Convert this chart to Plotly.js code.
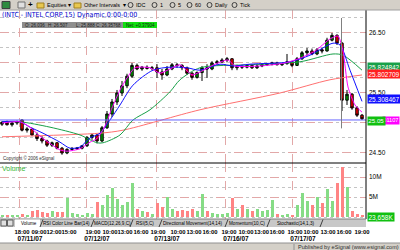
<!DOCTYPE html>
<html><head><meta charset="utf-8">
<script src="https://cdn.plot.ly/plotly-3.0.1.min.js"></script>
<style>html,body{margin:0;padding:0;background:#fff;overflow:hidden}#chart{width:400px;height:250px}</style>
</head><body><div id="chart"></div>
<script>
// ---- data (INTC 15-min, coarsened) ----
const openP  = [24.98,25.01,24.97,25.00,25.05,24.88,24.90,24.80,24.74,24.70,24.63,24.67,24.58,24.50,24.56,24.57,24.58,24.62,24.76,24.80,24.70,24.92,25.15,25.35,25.50,25.62,25.78,25.96,25.90,25.93,25.91,25.92,25.85,25.80,25.90,25.97,25.96,25.92,25.83,25.76,25.84,25.92,25.90,26.00,26.02,26.05,26.07,25.92,25.94,25.93,25.96,25.92,25.95,25.97,25.98,26.00,25.97,25.99,26.02,25.96,26.07,26.17,26.20,26.15,26.22,26.20,26.38,26.46,26.33,25.38,25.48,25.25,25.13];
const highP  = [25.03,25.04,25.02,25.04,25.06,24.93,24.92,24.84,24.78,24.72,24.69,24.68,24.60,24.58,24.60,24.60,24.63,24.78,24.82,24.81,24.95,25.20,25.40,25.55,25.70,25.82,26.00,25.99,25.95,25.96,25.95,25.98,25.90,25.95,26.00,26.00,25.98,25.94,25.85,25.86,25.95,25.98,26.03,26.05,26.08,26.10,26.08,25.97,25.97,25.98,25.98,25.97,25.99,26.00,26.02,26.02,26.00,26.15,26.03,26.10,26.20,26.25,26.24,26.25,26.26,26.42,26.50,26.48,26.35,25.55,25.50,25.28,25.15];
const lowP   = [24.95,24.96,24.94,24.97,24.86,24.84,24.78,24.70,24.66,24.60,24.60,24.56,24.47,24.48,24.54,24.55,24.56,24.60,24.72,24.66,24.68,24.90,25.10,25.30,25.45,25.58,25.75,25.88,25.87,25.89,25.88,25.75,25.72,25.78,25.88,25.92,25.88,25.80,25.72,25.74,25.70,25.75,25.88,25.97,26.00,26.01,25.88,25.88,25.90,25.91,25.90,25.90,25.93,25.95,25.96,25.96,25.95,25.97,25.93,25.95,26.05,26.12,26.13,26.13,26.16,26.19,26.36,26.30,25.20,25.30,25.22,25.10,25.05];
const closeP = [25.01,24.97,25.00,25.02,24.88,24.90,24.80,24.74,24.70,24.63,24.67,24.58,24.50,24.56,24.57,24.58,24.62,24.76,24.80,24.70,24.92,25.15,25.35,25.50,25.62,25.78,25.96,25.90,25.93,25.91,25.92,25.85,25.80,25.90,25.97,25.96,25.92,25.83,25.76,25.84,25.92,25.90,26.00,26.02,26.05,26.07,25.92,25.94,25.93,25.96,25.92,25.95,25.97,25.98,26.00,25.97,25.99,26.02,25.96,26.07,26.17,26.20,26.15,26.22,26.20,26.38,26.46,26.33,25.38,25.48,25.25,25.13,25.07];
const volumeM = [0.5,0.4,0.6,0.5,0.8,0.6,1.5,1.8,1.2,1.0,1.5,1.2,1.3,4.8,1.0,0.8,0.6,1.0,0.8,3.8,3.0,5.5,7.2,4.5,3.0,3.8,8.6,2.0,1.5,1.2,0.8,3.5,2.5,5.0,2.0,1.5,1.8,1.5,2.0,1.5,5.7,1.5,1.0,0.8,0.7,1.0,4.8,2.0,3.0,2.0,1.5,2.0,1.5,1.8,4.2,0.8,0.6,0.8,0.5,3.0,6.0,4.0,3.0,5.0,3.5,7.0,4.0,8.5,12.5,7.5,1.5,0.8,0.5];

// moving averages (knots in bar units / price)
const maFastX = [0,3.6,5.6,7.6,9.6,11.6,13,15.6,17.6,19,20.6,22,23.6,25,26.6,29.6,31.6,33.6,35.6,38,39.6,42.6,45.2,46.6,51.6,56.6,59.6,62.6,65.6,67.2,68.2,69.2,70.6,72];
const maFastY = [25.00,25.02,24.93,24.78,24.66,24.55,24.53,24.57,24.68,24.74,24.95,25.25,25.55,25.75,25.92,25.92,25.83,25.90,25.97,25.80,25.85,25.98,26.05,25.95,25.95,26.00,26.08,26.20,26.40,26.45,26.20,25.60,25.30,25.18];
const maMidX  = [0,3.6,5.6,8.2,11.6,13.6,15.6,17.6,19.6,21.6,23.6,26.2,30.2,33.6,37,39.6,43.6,46.2,49.6,57.6,61.6,66.2,67.6,69.6,72];
const maMidY  = [25.02,25.02,24.93,24.83,24.68,24.58,24.60,24.75,24.83,25.05,25.30,25.63,25.88,25.93,25.92,25.88,25.98,25.95,25.98,26.02,26.13,26.33,26.30,25.88,25.36];
const maSlowX = [0,3.6,9.6,15.6,19,20.2,23.6,26.2,29.6,33.6,35.6,39.6,49.6,59.6,66.2,68.2,72];
const maSlowY = [25.02,25.02,24.93,24.80,24.67,24.67,24.80,25.05,25.22,25.52,25.72,25.92,25.97,26.02,26.15,26.13,25.88];
const maLongX = [0,19.6,24.2,39.6,55.6,65.6,72];
const maLongY = [24.77,24.83,24.88,25.22,25.50,25.72,25.80];

const refLine = 25.05;          // horizontal blue line
const cursorBar = 67.9;         // cursor position (bar units)
const dayStarts = [3.4,16.8,30.8,44.6,58];
const dayLabels = ['07/11/07','07/12/07','07/13/07','07/16/07','07/17/07'];
const timePos = [4,7.4,10.4,13.4,18.2,21.6,24.6,27.8,31.2,35.2,38.4,41.6,45.4,48.8,51.9,55,58.6,61.8,65.2,68.4,72];
const timeLabels = ['18:00','09:00','12:00','15:00','19:00','10:00','13:00','16:00','19:00','10:00','13:00','16:00','19:00','10:00','13:00','16:00','19:00','10:00','13:00','16:00','19:00'];
const priceTicks = [24.5,25.0,25.5,26.0,26.5];
const priceTickText = ['24.50','','25.50','','26.50'];   // 25.00 / 26.00 hidden behind value boxes
const volTicks = [5,10];
const volTickText = ['5M','10M'];
const endLabels = {slow:'25.824842', long:'25.802709', mid:'25.308467', last:'25.05', fast:'01107', vol:'23,658K'};
const endValues = {slow:25.824842, long:25.802709, mid:25.308467, last:25.05, fast:25.05, vol:0.023658};
const quote = ['O: 26.036','H: 26.507','L: 25.888','C: 26.35768','Net: +0.37904'];
const tabs = ['Volume','RSI Color Line Bar(14)','MACD(12,26,9,C)','RSI(5,C)','Directional Movement(14,14)','Momentum(10,C)','Stochastic(14,1,3)'];

// ---- drawing ----
const idx = closeP.map((_, i) => i);
const volColors = closeP.map((c, i) => c >= openP[i] ? '#86dc86' : '#ff8484');
const PX = x => x / 366;
const PY = y => (219 - y) / 209;
const NARROW = 'Liberation Sans Narrow, Arial Narrow, DejaVu Sans Condensed, sans-serif';
const SANS = 'Liberation Sans, Arial, sans-serif';

const traces = [
  {type:'candlestick', x: idx, open: openP, high: highP, low: lowP, close: closeP, xaxis:'x', yaxis:'y',
   increasing:{line:{color:'#000', width:1}, fillcolor:'#00a000'},
   decreasing:{line:{color:'#000', width:1}, fillcolor:'#ff0000'},
   whiskerwidth:0, hoverinfo:'skip', showlegend:false},
  {type:'scatter', mode:'lines', x: maLongX, y: maLongY, line:{color:'#ff7070', width:1, shape:'spline', smoothing:0.8}, hoverinfo:'skip', showlegend:false},
  {type:'scatter', mode:'lines', x: maSlowX, y: maSlowY, line:{color:'#18a048', width:1, shape:'spline', smoothing:0.8}, hoverinfo:'skip', showlegend:false},
  {type:'scatter', mode:'lines', x: maMidX, y: maMidY, line:{color:'#1010ff', width:1, shape:'spline', smoothing:0.8}, hoverinfo:'skip', showlegend:false},
  {type:'scatter', mode:'lines', x: maFastX, y: maFastY, line:{color:'#ff00ff', width:1, shape:'spline', smoothing:0.6}, hoverinfo:'skip', showlegend:false},
  {type:'bar', x: idx, y: volumeM, xaxis:'x', yaxis:'y2', marker:{color: volColors, line:{width:0}}, width:0.6, hoverinfo:'skip', showlegend:false},
  {type:'scatter', mode:'markers', x:[0], y:[0], xaxis:'x2', yaxis:'y2', marker:{opacity:0}, hoverinfo:'skip', showlegend:false}
];

const shapes = [];
const annotations = [];
function rect(x0,y0,x1,y1,fill,line){shapes.push({type:'rect',xref:'paper',yref:'paper',x0:PX(x0),x1:PX(x1),y0:PY(y0),y1:PY(y1),fillcolor:fill,line:{color:line||fill,width:line?1:0},layer:'above'});}
function seg(x0,y0,x1,y1,color){shapes.push({type:'line',xref:'paper',yref:'paper',x0:PX(x0),x1:PX(x1),y0:PY(y0),y1:PY(y1),line:{color:color,width:1},layer:'above'});}
function txt(t,x,y,size,color,opt){annotations.push(Object.assign({text:t,xref:'paper',yref:'paper',x:PX(x),y:PY(y),xanchor:'left',yanchor:'middle',showarrow:false,font:{family:SANS,size:size,color:color},borderpad:0},opt||{}));}

// reference line & cursor
shapes.push({type:'line',xref:'paper',yref:'y',x0:0,x1:1,y0:refLine,y1:refLine,line:{color:'#6464ff',width:1},layer:'above'});
shapes.push({type:'line',xref:'x',yref:'y',x0:cursorBar,x1:cursorBar,y0:26.75,y1:24.91,line:{color:'#808080',width:1},layer:'above'});
// panel divider and right border
seg(0,163,366,163,'#000');
seg(366,10,366,219,'#000');

// toolbar
rect(0,0,400,10,'#d4d0c8');
seg(0,10,400,10,'#a0a0a0');
rect(2,1.5,10,8.5,'#2e8b3e','#404040');
rect(18,2,25,8,'#e0e0e0','#707070');
txt('+',27,5,8,'#000',{font:{family:SANS,size:8,color:'#000',weight:'bold'}});
rect(37,3,44,8,'#e8c850','#a08020');
txt('Equities',46,5,5.5,'#000');
txt('▾',67,5,5.5,'#000');
rect(74,3,81,8,'#e8c850','#a08020');
txt('Other Intervals',83,5,5.5,'#000');
txt('▾',122,5,5.5,'#000');
const tbItems = [['IDC',128],['1',152],['5',170],['60',187],['Daily',207],['Tick',232]];
tbItems.forEach(([t,x]) => {
  shapes.push({type:'circle',xref:'paper',yref:'paper',x0:PX(x),x1:PX(x+5),y0:PY(7.5),y1:PY(2.5),line:{color:'#404040',width:1},layer:'above'});
  txt(t,x+7,5,5.5,'#000');
});

// header
txt('(INTC - INTEL CORP,15) Dynamic,0:00-0:00',1,15.5,7,'#0000cc',{font:{family:NARROW,size:7,color:'#0000cc'}});
rect(22,22,157,28,'#8e8e8e');
rect(123,22,157,28,'#10e010');
[[quote[0],24],[quote[1],47],[quote[2],75],[quote[3],95],[quote[4],125]].forEach(([t,x]) => txt(t,x,25,4.5,'#1a1a1a'));

// copyright and volume title
txt('Copyright © 2006 eSignal',2,158,4.5,'#303030');
txt('Volume',1,168.5,7,'#38b838');

// right-side value boxes
function valBox(t,val,yref,bg,fg,shift,opt){annotations.push(Object.assign({text:t,xref:'paper',yref:yref,x:1,y:val,xanchor:'left',yanchor:'middle',xshift:1,yshift:shift||0,showarrow:false,bgcolor:bg,borderpad:0.5,font:{family:SANS,size:6.5,color:fg}},opt||{}));}
valBox(endLabels.slow,endValues.slow,'y','#18a048','#ffffff',6.5);
valBox(endLabels.long,endValues.long,'y','#ff2020','#ffffff',0.5);
valBox(endLabels.mid,endValues.mid,'y','#1010ff','#ffffff',5.5);
valBox(endLabels.fast,endValues.fast,'y','#ff00ff','#ffffff',-1,{x:400/366,xanchor:'right',xshift:0,borderpad:0.3,font:{family:SANS,size:5.6,color:'#ffffff'}});
valBox(endLabels.last,endValues.last,'y','#10c010','#ffffff',-1,{borderpad:0.3,font:{family:SANS,size:6.2,color:'#ffffff'}});
valBox(endLabels.vol,endValues.vol,'y2','#10c010','#ffffff',0);

// tab bar
rect(0,219,366,227,'#c8c8c8');
seg(0,219,366,219,'#808080');
rect(1,220,6.5,226,'#e0e0e0','#606060');
rect(7.5,220,13,226,'#e0e0e0','#606060');
rect(15,219.5,40,227,'#ffffff');
const tabCx = [29,66,112.5,145,192.5,247,295.5];
tabs.forEach((t,i) => txt(t,tabCx[i],223,4.6,'#000',{xanchor:'center'}));
[40,91,130,159,225,267,320].forEach(x => seg(x,227,x+3,219.5,'#404040'));

// bottom status bar
rect(0,243,400,250,'#d4d0c8');
seg(0,243,400,243,'#909090');
seg(294,244,294,250,'#909090');
txt('Published by eSignal (www.esignal.com)',297,246.8,5.6,'#303030');

const layout = {
  width:400, height:250, margin:{l:0,r:34,t:10,b:31},
  paper_bgcolor:'#ffffff', plot_bgcolor:'#ffffff', showlegend:false, bargap:0,
  xaxis:{domain:[0,1], anchor:'y2', range:[-0.4,72.8], tickvals:dayStarts, ticktext:dayLabels, tickangle:0,
         showgrid:true, gridcolor:'#e2a8a8', griddash:'dash', gridwidth:1, zeroline:false, ticks:'',
         ticklabelstandoff:14, ticklabelshift:11, showline:false,
         tickfont:{family:SANS,size:6.5,color:'#000',weight:'bold'}, rangeslider:{visible:false}, fixedrange:true},
  xaxis2:{overlaying:'x', anchor:'y2', side:'bottom', range:[-0.4,72.8], tickvals:timePos, ticktext:timeLabels, tickangle:0,
         showgrid:false, zeroline:false, ticks:'', ticklabelstandoff:8, showline:false,
         tickfont:{family:SANS,size:5.9,color:'#000',weight:'bold'}, fixedrange:true},
  yaxis:{domain:[56/209,1], side:'right', range:[24.333,26.883], tickvals:priceTicks, ticktext:priceTickText,
         showgrid:true, gridcolor:'#e2a8a8', griddash:'dash', zeroline:false, ticks:'', ticklabelstandoff:2,
         minor:{dtick:0.25, tick0:0, showgrid:true, gridcolor:'#c4c4c4', griddash:'dot'},
         tickfont:{family:SANS,size:6.5,color:'#000'}, fixedrange:true},
  yaxis2:{domain:[0,56/209], side:'right', range:[-0.5,13.5], tickvals:volTicks, ticktext:volTickText,
         showgrid:true, gridcolor:'#e2a8a8', griddash:'dash', zeroline:false, ticks:'', ticklabelstandoff:2,
         minor:{dtick:2.5, tick0:0, showgrid:true, gridcolor:'#c4c4c4', griddash:'dot'},
         tickfont:{family:SANS,size:6.5,color:'#000'}, fixedrange:true},
  shapes: shapes, annotations: annotations
};
Plotly.newPlot('chart', traces, layout, {staticPlot:true, displayModeBar:false});
</script></body></html>
